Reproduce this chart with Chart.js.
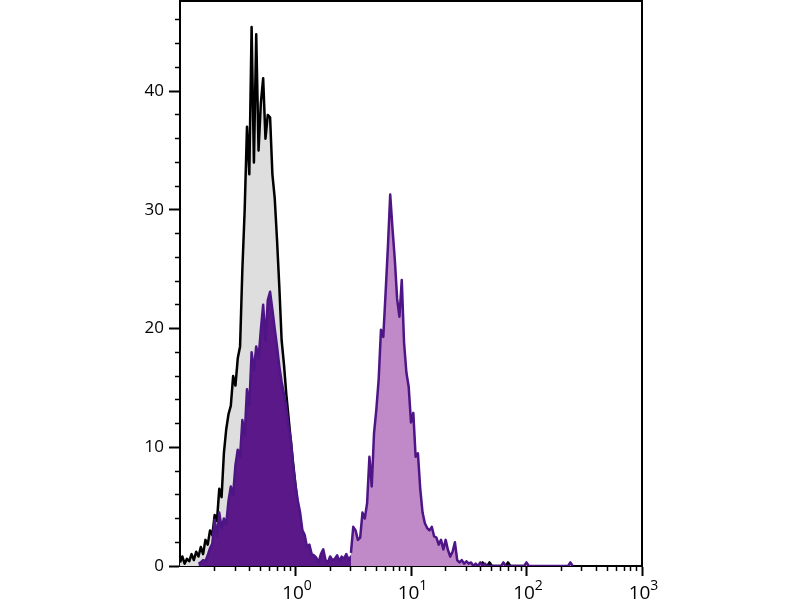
<!DOCTYPE html>
<html>
<head>
<meta charset="utf-8">
<script src="https://cdn.jsdelivr.net/npm/chart.js@4.4.1/dist/chart.umd.min.js"></script>
<style>
html,body{margin:0;padding:0;background:#fff;}
#wrap{width:800px;height:600px;position:relative;}
</style>
</head>
<body>
<div id="wrap"><canvas id="c"></canvas></div>
<script>
// histogram channels: log10 of first bin and log10 step between bins
const binStartLog = -1;
const binStepLog = 0.02;

// unstained / control histogram (grey fill, black outline), first bin = 0
const controlFirstBin = 0;
const controlCounts = [
  0.3,0.8,0.2,0.6,0.4,1.0,0.5,1.2,0.8,1.6,
  1.0,2.2,1.8,3.0,2.6,4.3,3.8,6.5,5.8,9.5,
  11.5,12.8,13.5,16.0,15.2,17.5,18.5,25.0,30.0,37.0,
  33.0,45.4,34.0,44.8,35.0,39.0,41.1,36.0,38.0,37.8,
  33.0,31.0,27.5,23.5,19.0,17.0,14.5,12.5,10.5,8.6,
  6.8,5.0,3.5,2.4,1.5,0.9,0.5,0.3,0.2,0,
  0.3,0,0,0,0.3,0,0,0,0,0,
  0.3,0,0,0,0,0,0,0,0,0,
  0,0,0,0,0,0,0,0,0.3,0,
  0,0,0,0,0,0,0,0,0,0,
  0.3,0,0,0,0,0,0,0,0,0,
  0,0,0.3,0,0,0,0,0,0,0,
  0,0,0,0,0,0,0,0,0,0,
  0,0.3,0,0,0.3,0,0,0,0,0,
  0,0,0.3,0,0,0,0,0,0,0
];

// low population (dark purple fill), first bin = 8
const lowFirstBin = 8;
const lowCounts = [
  0.2,0.3,0.5,0.4,0.9,1.5,1.9,3.9,2.5,4.5,
  3.2,4.0,3.5,5.5,6.7,6.0,8.5,9.8,9.2,12.3,
  11.0,14.9,13.5,18.0,16.5,18.5,17.5,19.9,22.0,19.0,
  22.4,23.1,21.6,20.0,18.5,16.8,15.5,14.5,13.4,11.8,
  10.6,8.4,6.8,5.5,4.5,3.0,2.6,1.6,1.8,1.0,
  0.9,0.7,0.3,1.0,1.4,0.5,0.3,0.8,0.5,0.6,
  0.9,0.4,0.8,0.6,1.0,0.5,0.8,0.4
];

// stained population (light purple fill), first bin = 74
const highFirstBin = 74;
const highCounts = [
  1.1,3.3,3.0,2.2,2.4,4.5,4.0,5.3,9.2,6.7,
  11.2,13.2,15.7,19.9,19.3,23.0,26.9,31.3,28.4,25.8,
  22.5,21.0,24.1,18.8,16.3,15.1,12.1,12.9,9.2,9.5,
  6.5,4.5,3.6,3.2,3.0,3.3,2.5,2.4,1.8,2.2,
  1.4,2.2,1.35,0.8,1.2,2.0,0.5,0.3,0.5,0.2,
  0.4,0.2,0.3,0,0.2,0,0.3,0,0.2,0,
  0,0,0,0,0,0,0.3,0,0,0,
  0,0,0,0,0,0,0.3,0,0,0,
  0,0,0,0,0,0,0,0,0,0,
  0,0,0,0,0,0.3,0
];

// axis ticks
const xTickValues = [1, 10, 100, 1000];
const xTickBase = ['10', '10', '10', '10'];
const xTickExp = ['0', '1', '2', '3'];
const xMinorTickValues = [0.2,0.3,0.4,0.5,0.6,0.7,0.8,0.9, 2,3,4,5,6,7,8,9, 20,30,40,50,60,70,80,90, 200,300,400,500,600,700,800,900];
const yTickValues = [0, 10, 20, 30, 40];
const yMinorTickValues = [2,4,6,8,12,14,16,18,22,24,26,28,32,34,36,38,42,44,46];

function toPoints(counts, firstBin) {
  return counts.map((v, k) => ({ x: Math.pow(10, binStartLog + (firstBin + k) * binStepLog), y: v }));
}

const FAMILY = "'Open Sans', 'Noto Sans', 'DejaVu Sans', sans-serif";

// draws the x tick labels (10 with a superscript exponent) at the x scale's tick positions
const powerLabels = {
  id: 'powerLabels',
  afterDraw(chart) {
    const s = chart.scales.x;
    const c = chart.ctx;
    c.save();
    c.fillStyle = '#000';
    c.textBaseline = 'alphabetic';
    c.textAlign = 'left';
    xTickValues.forEach((v, i) => {
      const px = s.getPixelForValue(v);
      c.font = '19px ' + FAMILY;
      const bw = c.measureText(xTickBase[i]).width;
      c.font = '14px ' + FAMILY;
      const ew = c.measureText(xTickExp[i]).width;
      const left = px + 1.5 - (bw + ew) / 2;
      c.font = '19px ' + FAMILY;
      c.fillText(xTickBase[i], left, s.top + 33);
      c.font = '14px ' + FAMILY;
      c.fillText(xTickExp[i], left + bw, s.top + 24);
    });
    c.restore();
  }
};

const ctx = document.getElementById('c').getContext('2d');
new Chart(ctx, {
  type: 'line',
  data: {
    datasets: [
      {
        label: 'stained',
        data: toPoints(highCounts, highFirstBin),
        borderColor: '#4d1585',
        backgroundColor: '#c08ac8',
        borderWidth: 2.5, fill: 'origin', pointRadius: 0, tension: 0,
        borderJoinStyle: 'round', order: 1
      },
      {
        label: 'low',
        data: toPoints(lowCounts, lowFirstBin),
        borderColor: '#4d1585',
        backgroundColor: '#5a1888',
        borderWidth: 2.5, fill: 'origin', pointRadius: 0, tension: 0,
        borderJoinStyle: 'round', order: 2
      },
      {
        label: 'control',
        data: toPoints(controlCounts, controlFirstBin),
        borderColor: '#000000',
        backgroundColor: '#dedede',
        borderWidth: 2.5, fill: 'origin', pointRadius: 0, tension: 0,
        borderJoinStyle: 'round', order: 3
      }
    ]
  },
  plugins: [powerLabels],
  options: {
    responsive: true,
    maintainAspectRatio: false,
    devicePixelRatio: 1,
    animation: false,
    events: [],
    layout: { padding: { top: 1, right: 158, bottom: 0, left: 0 } },
    plugins: { legend: { display: false }, tooltip: { enabled: false } },
    scales: {
      x: {
        type: 'logarithmic', position: 'bottom', min: 0.1, max: 1000, weight: 1, z: 1,
        afterBuildTicks: s => { s.ticks = xTickValues.map(v => ({ value: v })); },
        afterFit: s => { s.height = 34; s.paddingLeft = 0; s.paddingRight = 0; },
        ticks: { display: false, autoSkip: false, maxRotation: 0 },
        grid: { drawOnChartArea: false, tickLength: 10, tickWidth: 2, tickColor: '#000' },
        border: { display: true, color: '#000', width: 2 }
      },
      xMinor: {
        type: 'logarithmic', position: 'bottom', min: 0.1, max: 1000, weight: 0, z: 1,
        afterBuildTicks: s => { s.ticks = xMinorTickValues.map(v => ({ value: v })); },
        afterFit: s => { s.height = 0; s.paddingLeft = 0; s.paddingRight = 0; },
        ticks: { display: false, autoSkip: false, callback: () => '' },
        grid: { drawOnChartArea: false, tickLength: 5, tickWidth: 1.5, tickColor: '#000' },
        border: { display: false }
      },
      y: {
        type: 'linear', position: 'left', min: 0, max: 47.6, weight: 1, z: 1,
        afterBuildTicks: s => { s.ticks = yTickValues.map(v => ({ value: v })); },
        afterFit: s => { s.width = 180; s.paddingTop = 0; s.paddingBottom = 0; },
        ticks: { autoSkip: false, padding: 5, color: '#000', font: { family: FAMILY, size: 17 } },
        grid: { drawOnChartArea: false, tickLength: 11, tickWidth: 2, tickColor: '#000' },
        border: { display: true, color: '#000', width: 2 }
      },
      yMinor: {
        type: 'linear', position: 'left', min: 0, max: 47.6, weight: 0, z: 1,
        afterBuildTicks: s => { s.ticks = yMinorTickValues.map(v => ({ value: v })); },
        afterFit: s => { s.width = 0; s.paddingTop = 0; s.paddingBottom = 0; },
        ticks: { display: false, autoSkip: false, callback: () => '' },
        grid: { drawOnChartArea: false, tickLength: 5, tickWidth: 1.5, tickColor: '#000' },
        border: { display: false }
      },
      xTop: {
        type: 'linear', position: 'top', min: 0, max: 1, z: 1,
        afterFit: s => { s.height = 0; s.paddingLeft = 0; s.paddingRight = 0; },
        ticks: { display: false },
        grid: { drawOnChartArea: false, drawTicks: false },
        border: { display: true, color: '#000', width: 2 }
      },
      yRight: {
        type: 'linear', position: 'right', min: 0, max: 1, z: 1,
        afterFit: s => { s.width = 0; s.paddingTop = 0; s.paddingBottom = 0; },
        ticks: { display: false },
        grid: { drawOnChartArea: false, drawTicks: false },
        border: { display: true, color: '#000', width: 2 }
      }
    }
  }
});
</script>
</body>
</html>
